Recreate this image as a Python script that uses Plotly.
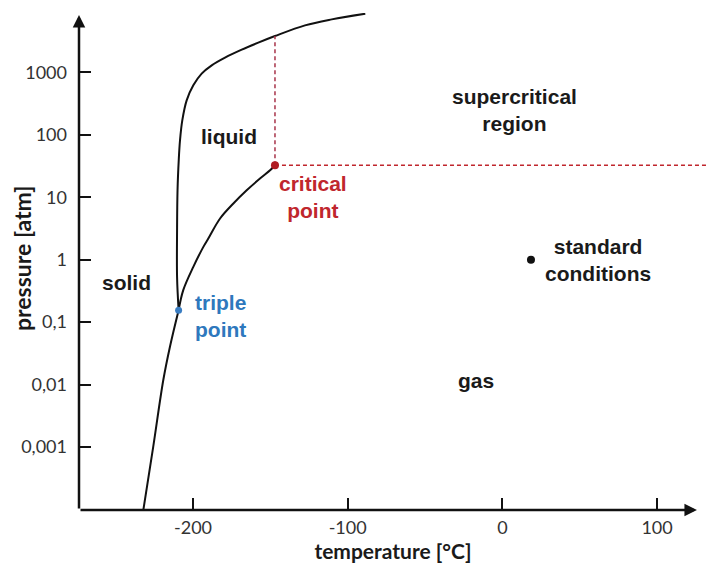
import math
import plotly.graph_objects as go

# --- data ---
subl_T = [-232.1, -225.7, -219.2, -214.9, -209.3]
subl_P = [9.8e-5, 1.01e-3, 1.18e-2, 4.03e-2, 0.155]

vap_T = [-209.3, -206.3, -199.8, -193.3, -190.1, -182.5, -173.9, -165.3, -156.7, -149.8, -147.0]
vap_P = [0.155, 0.325, 0.767, 1.60, 2.18, 4.56, 7.93, 12.9, 19.9, 27.5, 32.5]

melt_T = [-209.3, -210.3, -210.3, -210.0, -209.2, -208.4, -206.9, -204.1, -199.8, -194.4,
          -187.9, -179.3, -168.5, -157.8, -147.0, -127.6, -110.3, -88.6]
melt_P = [0.155, 0.525, 2.97, 12.9, 40, 81.6, 171, 356, 619, 953,
          1294, 1720, 2306, 2986, 3810, 5650, 7050, 8690]

triple_T, triple_P = -209.3, 0.155
crit_T, crit_P = -147.0, 32.5
std_T, std_P = 18.5, 1.0

x_ticks = [-200, -100, 0, 100]
y_ticks = [1e-3, 1e-2, 1e-1, 1, 10, 100, 1000]
y_ticklabels = ["0,001", "0,01", "0,1", "1", "10", "100", "1000"]

labels = ["liquid", "supercritical<br>region", "critical<br>point", "solid",
          "triple<br>point", "standard<br>conditions", "gas"]
label_T = [-176.7, 7.6, -122.4, -242.7, -200.0, 26.3, -17.0]
label_P = [95, 246, 10, 0.437, 0.125, 1.0, 0.0118]
label_color = ["#1a1a1a", "#1a1a1a", "#c0262d", "#1a1a1a", "#2e78bd", "#1a1a1a", "#1a1a1a"]
label_anchor = ["center", "center", "center", "center", "left", "left", "center"]
label_align = ["center", "center", "center", "center", "left", "center", "center"]

x_title = "temperature [°C]"
y_title = "pressure [atm]"

x_range = [-273.7, 132.3]
y_range_log = [-4.01, 3.95]

red = "#c0262d"

fig = go.Figure()

line_style = dict(color="#111111", width=2, shape="spline", smoothing=1.0)
fig.add_trace(go.Scatter(x=subl_T, y=subl_P, mode="lines", line=line_style, hoverinfo="skip"))
fig.add_trace(go.Scatter(x=vap_T, y=vap_P, mode="lines", line=line_style, hoverinfo="skip"))
fig.add_trace(go.Scatter(x=melt_T, y=melt_P, mode="lines", line=line_style, hoverinfo="skip"))

# dashed red guide lines from the critical point
fig.add_trace(go.Scatter(x=[crit_T, crit_T], y=[crit_P, melt_P[melt_T.index(crit_T)]],
                         mode="lines", line=dict(color="#a8344a", width=1.5, dash="4px,3px"),
                         hoverinfo="skip"))
fig.add_trace(go.Scatter(x=[crit_T, x_range[1]], y=[crit_P, crit_P],
                         mode="lines", line=dict(color=red, width=1.5, dash="4px,3px"),
                         hoverinfo="skip"))

# points
fig.add_trace(go.Scatter(x=[triple_T], y=[triple_P], mode="markers",
                         marker=dict(color="#3a7dc2", size=7), hoverinfo="skip"))
fig.add_trace(go.Scatter(x=[crit_T], y=[crit_P], mode="markers",
                         marker=dict(color="#b01c22", size=8), hoverinfo="skip"))
fig.add_trace(go.Scatter(x=[std_T], y=[std_P], mode="markers",
                         marker=dict(color="#111111", size=8), hoverinfo="skip"))

annotations = []
for t, x, y, c, a, al in zip(labels, label_T, label_P, label_color, label_anchor, label_align):
    annotations.append(dict(x=x, y=math.log10(y), xref="x", yref="y",
                            text="<b>" + t.replace("<br>", "</b><br><b>") + "</b>",
                            showarrow=False, xanchor=a, yanchor="middle", align=al,
                            font=dict(family="Liberation Sans", size=21, color=c)))

# y-axis title
annotations.append(dict(xref="paper", yref="paper", x=-0.0908, y=0.507, text="<b>" + y_title + "</b>",
                        textangle=-90, showarrow=False, xanchor="center", yanchor="middle",
                        font=dict(family="Lato", size=23, color="#1a1a1a")))

# axis arrows
annotations.append(dict(xref="x domain", yref="y domain", axref="x domain", ayref="y domain",
                        x=0.984, y=0, ax=0, ay=0, showarrow=True, arrowhead=2,
                        arrowsize=1, arrowwidth=2.5, arrowcolor="#111111", text=""))
annotations.append(dict(xref="x domain", yref="y domain", axref="x domain", ayref="y domain",
                        x=0, y=0.996, ax=0, ay=0, showarrow=True, arrowhead=2,
                        arrowsize=1, arrowwidth=2.5, arrowcolor="#111111", text=""))

fig.update_layout(
    width=707, height=566,
    margin=dict(l=79, r=0, t=13, b=56),
    paper_bgcolor="white", plot_bgcolor="white",
    showlegend=False,
    annotations=annotations,
    font=dict(family="Lato", color="#333333"),
)
fig.update_xaxes(range=x_range, tickvals=x_ticks, ticktext=[str(v) for v in x_ticks],
                 showgrid=False, zeroline=False, showline=False, automargin=False,
                 ticks="inside", ticklen=12, tickwidth=2, tickcolor="#111111",
                 ticklabelstandoff=5,
                 tickfont=dict(family="Lato", size=18, color="#333333"),
                 title=dict(text="<b>" + x_title + "</b>", standoff=4,
                            font=dict(family="Lato", size=21, color="#1a1a1a")))
fig.update_yaxes(type="log", range=y_range_log, tickvals=y_ticks, ticktext=y_ticklabels,
                 showgrid=False, zeroline=False, showline=False, automargin=False,
                 ticks="inside", ticklen=12, tickwidth=2, tickcolor="#111111",
                 ticklabelstandoff=11,
                 tickfont=dict(family="Lato", size=18, color="#333333"))

fig.write_html("out.html", config={"displayModeBar": False},
               post_script="document.body.style.margin='0px';")
